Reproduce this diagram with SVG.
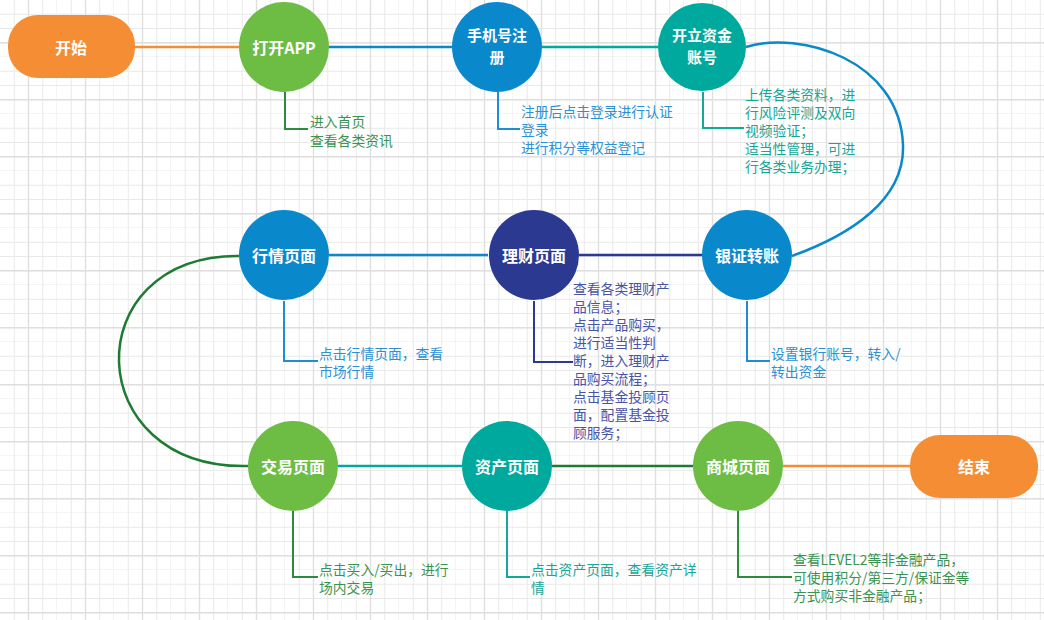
<svg xmlns="http://www.w3.org/2000/svg" width="1044" height="620" viewBox="0 0 1044 620">
<defs>
<pattern id="grid" x="0" y="0" width="57" height="57" patternUnits="userSpaceOnUse">
<path d="M14.25 0V57M28.5 0V57M42.75 0V57M57 0V57M0 14.25H57M0 28.5H57M0 42.75H57M0 57H57" stroke="#e9e9e9" stroke-width="1" fill="none"/>
<path d="M28.5 0V57M0 42.75H57" stroke="#dfdfdf" stroke-width="1.4" fill="none"/>
</pattern>
<style>
.lbl{font-family:"Noto Sans CJK SC","Liberation Sans",sans-serif;font-size:16px;font-weight:bold;fill:#fff;text-anchor:middle;dominant-baseline:central}
.lbl2{font-family:"Noto Sans CJK SC","Liberation Sans",sans-serif;font-size:15px;font-weight:bold;fill:#fff;text-anchor:middle}
.note{font-family:"Noto Sans CJK SC","Liberation Sans",sans-serif;font-size:13.8px}
.c{fill:none;stroke-width:2.5}
.e{fill:none;stroke-width:2}
.or{fill:#F58D34}.gr{fill:#6DBD45}.bl{fill:#0A88CC}.te{fill:#00A99D}.nv{fill:#2B3990}
.tgr{fill:#3A9350}.tbl{fill:#2B90D4}.tte{fill:#17A598}.tnv{fill:#4A54A6}
</style>
</defs>
<rect width="1044" height="620" fill="#fff"/>
<rect width="1044" height="620" fill="url(#grid)"/>

<g id="connectors">
<path class="c" stroke="#F58D34" d="M135 47H239"/>
<path class="c" stroke="#0A88CC" d="M329 47H452"/>
<path class="c" stroke="#00A99D" d="M541 47H659"/>
<path class="c" stroke="#0A88CC" d="M746 47C800 30 900 60 903 145C905 200 850 235 792 256"/>
<path class="c" stroke="#2B3990" d="M579 255H702"/>
<path class="c" stroke="#0A88CC" d="M329 255H488"/>
<path class="c" stroke="#1E7B34" d="M239 256C75 255 80 470 248 466"/>
<path class="c" stroke="#00A99D" d="M338 466H462"/>
<path class="c" stroke="#1E7B34" d="M552 466H693"/>
<path class="c" stroke="#F58D34" d="M783 466H910"/>

<path class="e" stroke="#2E8B3E" d="M285 92V129H308"/>
<path class="e" stroke="#1E8ED0" d="M498 92V129H520"/>
<path class="e" stroke="#14A89A" d="M703 92V128H744"/>
<path class="e" stroke="#1E8ED0" d="M284 301V361H318"/>
<path class="e" stroke="#2B3990" d="M534 301V362H573"/>
<path class="e" stroke="#1E8ED0" d="M747 301V361H770"/>
<path class="e" stroke="#2E8B3E" d="M293 511V577H318"/>
<path class="e" stroke="#14A89A" d="M507 511V577H530"/>
<path class="e" stroke="#2E8B3E" d="M738 511V577H792"/>
</g>

<g id="start"><rect class="or" x="8" y="15" width="127" height="63" rx="30"/><text class="lbl" x="71" y="47">开始</text></g>
<g id="open-app"><circle class="gr" cx="284" cy="47" r="45"/><text class="lbl" x="284" y="47">打开APP</text></g>
<g id="register"><circle class="bl" cx="497" cy="47" r="45"/><text class="lbl2" x="497" y="41"><tspan x="497">手机号注</tspan><tspan x="497" dy="22">册</tspan></text></g>
<g id="open-account"><circle class="te" cx="702" cy="47" r="44"/><text class="lbl2" x="702" y="41"><tspan x="702">开立资金</tspan><tspan x="702" dy="22">账号</tspan></text></g>
<g id="market"><circle class="bl" cx="284" cy="255" r="45"/><text class="lbl" x="284" y="255">行情页面</text></g>
<g id="wealth"><circle class="nv" cx="534" cy="255" r="45"/><text class="lbl" x="534" y="255">理财页面</text></g>
<g id="transfer"><circle class="bl" cx="747" cy="255" r="45"/><text class="lbl" x="747" y="255">银证转账</text></g>
<g id="trade"><circle class="gr" cx="293" cy="466" r="45"/><text class="lbl" x="293" y="466">交易页面</text></g>
<g id="assets"><circle class="te" cx="507" cy="466" r="45"/><text class="lbl" x="507" y="466">资产页面</text></g>
<g id="mall"><circle class="gr" cx="738" cy="466" r="45"/><text class="lbl" x="738" y="466">商城页面</text></g>
<g id="end"><rect class="or" x="910" y="435" width="128" height="63" rx="30"/><text class="lbl" x="974" y="466">结束</text></g>

<g id="notes">
<text class="note tgr" x="310" y="127">进入首页</text>
<text class="note tgr" x="310" y="146">查看各类资讯</text>

<text class="note tbl" x="521" y="117">注册后点击登录进行认证</text>
<text class="note tbl" x="521" y="135">登录</text>
<text class="note tbl" x="521" y="153">进行积分等权益登记</text>

<text class="note tte" x="745" y="100">上传各类资料，进</text>
<text class="note tte" x="745" y="118">行风险评测及双向</text>
<text class="note tte" x="745" y="136">视频验证；</text>
<text class="note tte" x="745" y="154">适当性管理，可进</text>
<text class="note tte" x="745" y="172">行各类业务办理；</text>

<text class="note tbl" x="319" y="359">点击行情页面，查看</text>
<text class="note tbl" x="319" y="377">市场行情</text>

<text class="note tnv" x="573" y="294">查看各类理财产</text>
<text class="note tnv" x="573" y="312">品信息；</text>
<text class="note tnv" x="573" y="330">点击产品购买，</text>
<text class="note tnv" x="573" y="348">进行适当性判</text>
<text class="note tnv" x="573" y="366">断，进入理财产</text>
<text class="note tnv" x="573" y="384">品购买流程；</text>
<text class="note tnv" x="573" y="402">点击基金投顾页</text>
<text class="note tnv" x="573" y="420">面，配置基金投</text>
<text class="note tnv" x="573" y="438">顾服务；</text>

<text class="note tbl" x="771" y="359">设置银行账号，转入/</text>
<text class="note tbl" x="771" y="377">转出资金</text>

<text class="note tgr" x="319" y="575">点击买入/买出，进行</text>
<text class="note tgr" x="319" y="593">场内交易</text>

<text class="note tte" x="531" y="575">点击资产页面，查看资产详</text>
<text class="note tte" x="531" y="593">情</text>

<text class="note tgr" x="793" y="565">查看LEVEL2等非金融产品，</text>
<text class="note tgr" x="793" y="583">可使用积分/第三方/保证金等</text>
<text class="note tgr" x="793" y="601">方式购买非金融产品；</text>
</g>
</svg>
